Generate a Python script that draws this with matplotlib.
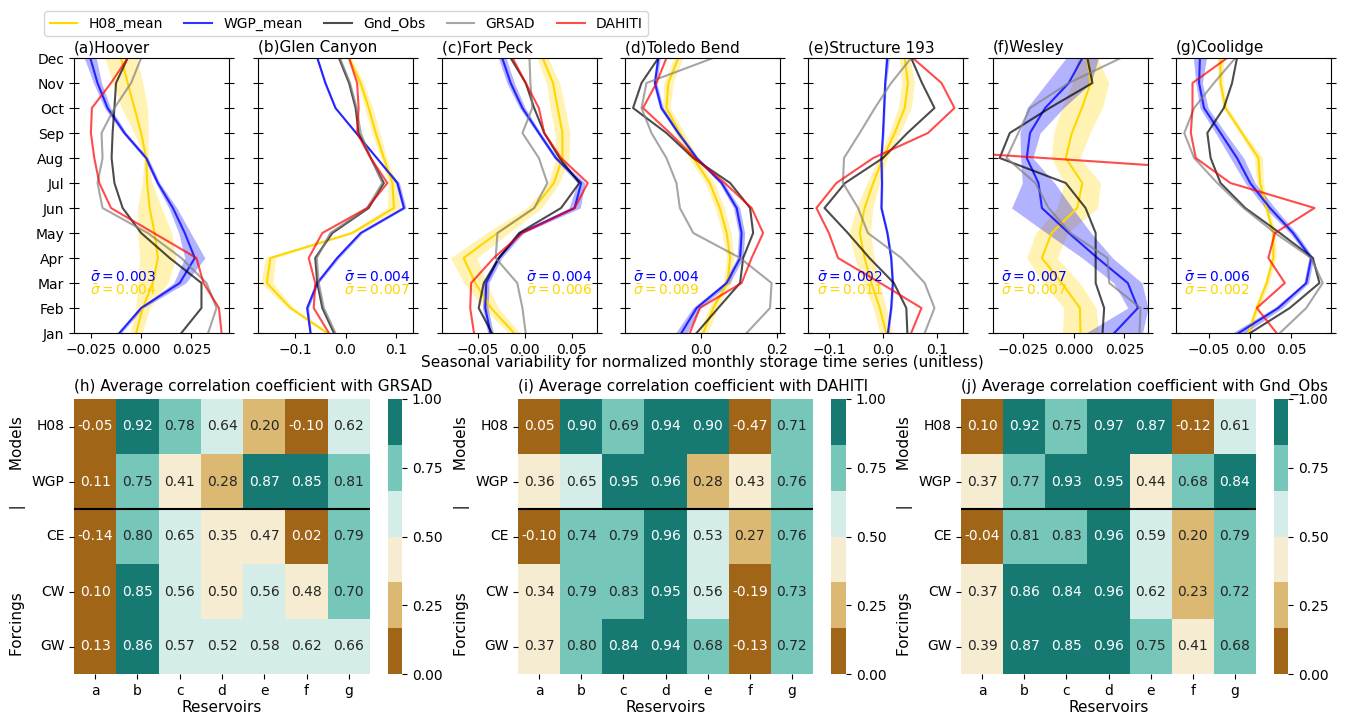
import numpy as np
import matplotlib
matplotlib.use("Agg")
import matplotlib.pyplot as plt
import seaborn as sns
from matplotlib.colors import ListedColormap

nan = np.nan
months = ["Jan", "Feb", "Mar", "Apr", "May", "Jun", "Jul", "Aug", "Sep", "Oct", "Nov", "Dec"]
panel_titles = ["(a)Hoover", "(b)Glen Canyon", "(c)Fort Peck", "(d)Toledo Bend",
                "(e)Structure 193", "(f)Wesley", "(g)Coolidge"]

# seasonal variability, one list of 12 months per reservoir
h08_mean = [
    [-0.0025, 0.0008, 0.0058, 0.0083, 0.0067, 0.0042, 0.003, 0.0025, 0.0, -0.0033, -0.0067, -0.01],
    [-0.036, -0.109, -0.156, -0.149, 0.013, 0.096, 0.093, 0.076, 0.06, 0.046, 0.03, 0.007],
    [-0.0114, -0.036, -0.0525, -0.065, -0.029, 0.01, 0.031, 0.04, 0.04, 0.035, 0.03, 0.019],
    [0.007, 0.033, 0.07, 0.077, 0.068, 0.05, 0.024, -0.019, -0.054, -0.089, -0.084, -0.058],
    [0.006, -0.006, -0.0215, -0.034, -0.043, -0.034, -0.018, 0.0, 0.0215, 0.04, 0.046, 0.04],
    [0.0033, 0.003, -0.006, -0.0158, -0.011, 0.0017, 0.0042, -0.004, -0.001, 0.004, 0.0083, 0.0067],
    [-0.002, 0.008, 0.02, 0.028, 0.028, 0.02, 0.012, 0.01, -0.01, -0.03, -0.036, -0.036],
]
h08_spread = [
    [0.003, 0.0035, 0.0075, 0.009, 0.0085, 0.006, 0.0025, 0.001, 0.0035, 0.0065, 0.0075, 0.008],
    [0.004, 0.006, 0.012, 0.01, 0.006, 0.013, 0.008, 0.006, 0.008, 0.008, 0.006, 0.004],
    [0.006, 0.008, 0.012, 0.014, 0.012, 0.008, 0.006, 0.007, 0.008, 0.008, 0.007, 0.006],
    [0.012, 0.012, 0.01, 0.01, 0.012, 0.012, 0.012, 0.012, 0.012, 0.01, 0.012, 0.012],
    [0.012, 0.012, 0.015, 0.018, 0.02, 0.015, 0.012, 0.008, 0.01, 0.012, 0.012, 0.01],
    [0.009, 0.008, 0.009, 0.0075, 0.008, 0.01, 0.009, 0.007, 0.009, 0.01, 0.009, 0.005],
    [0.003, 0.003, 0.003, 0.003, 0.003, 0.003, 0.004, 0.005, 0.003, 0.003, 0.003, 0.004],
]
wgp_mean = [
    [-0.0108, 0.0, 0.0192, 0.0267, 0.0217, 0.0158, 0.0083, 0.0025, -0.0083, -0.0167, -0.0217, -0.0253],
    [-0.0695, -0.076, -0.056, -0.0166, 0.03, 0.116, 0.103, 0.062, 0.021, -0.02, -0.04, -0.056],
    [-0.0364, -0.042, -0.041, -0.0275, -0.0043, 0.053, 0.06, 0.033, 0.015, -0.0025, -0.015, -0.024],
    [-0.05, -0.0104, 0.068, 0.103, 0.107, 0.094, 0.055, -0.0104, -0.058, -0.102, -0.119, -0.11],
    [0.009, 0.015, 0.018, 0.015, 0.008, -0.003, -0.002, -0.003, 0.0, 0.002, 0.004, 0.008],
    [0.02, 0.0317, 0.0267, 0.0117, -0.0025, -0.0158, -0.0175, -0.0233, -0.0217, -0.0142, -0.0025, 0.0042],
    [-0.014, 0.034, 0.068, 0.074, 0.052, 0.024, 0.0, -0.016, -0.036, -0.056, -0.062, -0.061],
]
wgp_spread = [
    [0.001, 0.001, 0.003, 0.005, 0.003, 0.002, 0.001, 0.001, 0.001, 0.0015, 0.002, 0.003],
    [0.002, 0.003, 0.003, 0.004, 0.004, 0.004, 0.004, 0.002, 0.002, 0.002, 0.002, 0.002],
    [0.003, 0.003, 0.003, 0.003, 0.003, 0.006, 0.004, 0.002, 0.002, 0.003, 0.004, 0.004],
    [0.015, 0.01, 0.008, 0.008, 0.008, 0.008, 0.006, 0.005, 0.005, 0.005, 0.005, 0.005],
    [0.002, 0.002, 0.002, 0.002, 0.002, 0.002, 0.002, 0.002, 0.002, 0.002, 0.002, 0.004],
    [0.014, 0.005, 0.007, 0.0075, 0.011, 0.015, 0.008, 0.003, 0.005, 0.009, 0.011, 0.008],
    [0.008, 0.005, 0.003, 0.003, 0.004, 0.006, 0.006, 0.008, 0.006, 0.005, 0.004, 0.008],
]
gnd_obs = [
    [0.02, 0.03, 0.03, 0.0142, 0.0, -0.0092, -0.0133, -0.0147, -0.0142, -0.0133, -0.0125, -0.0067],
    [-0.023, -0.046, -0.056, -0.06, -0.026, 0.046, 0.076, 0.05, 0.026, 0.02, 0.007, -0.013],
    [-0.035, -0.049, -0.0436, -0.0275, -0.006, 0.0386, 0.058, 0.037, 0.0207, 0.01, 0.001, -0.015],
    [-0.0104, 0.046, 0.103, 0.111, 0.137, 0.129, 0.077, -0.019, -0.089, -0.176, -0.154, -0.11],
    [0.045, 0.043, 0.02, -0.025, -0.065, -0.108, -0.07, 0.0, 0.045, 0.095, 0.072, 0.052],
    [0.0142, 0.015, 0.0108, 0.0108, 0.0108, 0.0058, -0.004, -0.0367, -0.0317, -0.012, 0.0092, 0.0067],
    [0.0, 0.048, 0.084, 0.076, 0.036, -0.006, -0.036, -0.048, -0.052, -0.032, -0.022, -0.016],
]
grsad = [
    [0.0333, 0.0375, 0.0325, 0.02, 0.0033, -0.0192, -0.0217, -0.0192, -0.0197, -0.0133, -0.005, 0.0],
    [-0.02, -0.043, -0.053, -0.057, -0.03, 0.043, 0.073, 0.05, 0.03, 0.022, 0.009, -0.011],
    [0.001, -0.0025, -0.008, -0.031, -0.029, 0.01, 0.024, 0.015, -0.0025, 0.008, 0.006, 0.005],
    [0.12, 0.181, 0.185, 0.103, -0.019, -0.054, -0.063, -0.089, -0.128, -0.154, -0.141, 0.033],
    [0.077, 0.095, 0.077, 0.034, -0.028, -0.046, -0.074, -0.072, -0.043, -0.015, 0.015, 0.052],
    [0.0325, 0.033, 0.0175, 0.0167, -0.0017, -0.0125, -0.019, -0.0333, -0.0275, -0.0217, -0.0025, 0.0233],
    [0.036, 0.068, 0.088, 0.074, 0.03, -0.008, -0.04, -0.068, -0.08, -0.068, -0.044, -0.018],
]
dahiti = [
    [0.04, 0.0387, 0.031, 0.0275, 0.0063, -0.015, -0.0208, -0.0233, -0.025, -0.0245, -0.015, -0.0067],
    [-0.033, -0.063, -0.06, -0.073, -0.046, 0.043, 0.083, 0.05, 0.023, 0.026, 0.023, 0.007],
    [-0.054, -0.058, -0.057, -0.033, -0.0025, 0.053, 0.067, 0.0386, 0.0207, 0.015, 0.001, -0.013],
    [-0.028, -0.002, 0.107, 0.133, 0.163, 0.133, 0.063, -0.015, -0.08, -0.15, -0.115, -0.089],
    [0.052, 0.071, -0.005, -0.083, -0.1, -0.123, -0.086, -0.018, 0.083, 0.132, 0.108, 0.055],
    [nan, nan, nan, nan, nan, nan, 0.17, -0.015, -0.2, nan, nan, nan],
    [0.032, 0.008, 0.042, 0.022, 0.03, 0.078, -0.024, -0.066, -0.072, -0.07, -0.07, -0.028],
]
sigma_wgp = [0.003, 0.004, 0.004, 0.004, 0.002, 0.007, 0.006]
sigma_h08 = [0.004, 0.007, 0.006, 0.009, 0.011, 0.007, 0.002]

# correlation tables
reservoirs = ["a", "b", "c", "d", "e", "f", "g"]
rows = ["H08", "WGP", "CE", "CW", "GW"]
corr_grsad = [
    [-0.05, 0.92, 0.78, 0.64, 0.20, -0.10, 0.62],
    [0.11, 0.75, 0.41, 0.28, 0.87, 0.85, 0.81],
    [-0.14, 0.80, 0.65, 0.35, 0.47, 0.02, 0.79],
    [0.10, 0.85, 0.56, 0.499, 0.56, 0.48, 0.70],
    [0.13, 0.86, 0.57, 0.52, 0.58, 0.62, 0.66],
]
corr_dahiti = [
    [0.05, 0.90, 0.69, 0.94, 0.90, -0.47, 0.71],
    [0.36, 0.65, 0.95, 0.96, 0.28, 0.43, 0.76],
    [-0.10, 0.74, 0.79, 0.96, 0.53, 0.27, 0.76],
    [0.34, 0.79, 0.83, 0.95, 0.56, -0.19, 0.73],
    [0.37, 0.80, 0.84, 0.94, 0.68, -0.13, 0.72],
]
corr_gnd = [
    [0.10, 0.92, 0.75, 0.97, 0.87, -0.12, 0.61],
    [0.37, 0.77, 0.93, 0.95, 0.44, 0.68, 0.84],
    [-0.04, 0.81, 0.83, 0.96, 0.59, 0.20, 0.79],
    [0.37, 0.86, 0.84, 0.96, 0.62, 0.23, 0.72],
    [0.39, 0.87, 0.85, 0.96, 0.75, 0.41, 0.68],
]
heat_titles = ["(h) Average correlation coefficient with GRSAD",
               "(i) Average correlation coefficient with DAHITI",
               "(j) Average correlation coefficient with Gnd_Obs"]

# axis settings for the top panels
xlims = [(-0.0334, 0.0437), (-0.1735, 0.1338), (-0.088, 0.0768), (-0.197, 0.207),
         (-0.1385, 0.1477), (-0.04, 0.0367), (-0.09, 0.098)]
xticks = [[-0.025, 0, 0.025], [-0.1, 0, 0.1], [-0.05, 0, 0.05], [0.0, 0.2],
          [-0.1, 0, 0.1], [-0.025, 0, 0.025], [-0.05, 0, 0.05]]
sig_pos = [(0.10, "left"), (0.985, "right"), (0.975, "right"), (0.05, "left"),
           (0.06, "left"), (0.05, "left"), (0.05, "left")]

plt.rcParams["font.size"] = 10
W, H = 1346, 715
fig = plt.figure(figsize=(W / 100, H / 100), dpi=100)


def px_axes(x0, y0, x1, y1):
    return fig.add_axes([x0 / W, 1 - y1 / H, (x1 - x0) / W, (y1 - y0) / H])


lefts = [74, 258, 442, 625, 808, 993, 1176]
y = np.arange(12)
handles = None
for i in range(7):
    ax = px_axes(lefts[i], 58, lefts[i] + 155, 333)
    hm = np.array(h08_mean[i]); hs = np.array(h08_spread[i])
    wm = np.array(wgp_mean[i]); ws = np.array(wgp_spread[i])
    ax.fill_betweenx(y, hm - hs, hm + hs, color="gold", alpha=0.3, lw=0)
    ax.fill_betweenx(y, wm - ws, wm + ws, color="blue", alpha=0.3, lw=0)
    l1, = ax.plot(hm, y, color="gold", lw=1.5, label="H08_mean")
    l2, = ax.plot(wm, y, color="blue", lw=1.5, alpha=0.8, label="WGP_mean")
    l3, = ax.plot(gnd_obs[i], y, color="black", lw=1.5, alpha=0.7, label="Gnd_Obs")
    l4, = ax.plot(grsad[i], y, color="gray", lw=1.5, alpha=0.7, label="GRSAD")
    l5, = ax.plot(dahiti[i], y, color="red", lw=1.5, alpha=0.7, label="DAHITI")
    if handles is None:
        handles = [l1, l2, l3, l4, l5]
    ax.set_xlim(*xlims[i])
    ax.set_xticks(xticks[i])
    ax.set_ylim(0, 11)
    ax.set_yticks(y)
    if i == 0:
        ax.set_yticklabels(months)
    else:
        ax.set_yticklabels([])
    ax.tick_params(axis="y", direction="inout", left=True, right=True, length=7)
    ax.set_title(panel_titles[i], loc="left", fontsize=11, pad=4)
    sx, ha = sig_pos[i]
    ax.text(sx, 0.2, r"$\bar{\sigma}=%.3f$" % sigma_wgp[i], color="blue",
            ha=ha, va="center", transform=ax.transAxes, fontsize=10)
    ax.text(sx, 0.153, r"$\bar{\sigma}=%.3f$" % sigma_h08[i], color="gold",
            ha=ha, va="center", transform=ax.transAxes, fontsize=10)

fig.text(702 / W, 1 - 362 / H,
         "Seasonal variability for normalized monthly storage time series (unitless)",
         ha="center", va="center", fontsize=11)
fig.legend(handles, [h.get_label() for h in handles], loc="upper left",
           bbox_to_anchor=(44 / W, 1 - 11 / H), ncol=5, fontsize=10,
           borderaxespad=0, columnspacing=1.55)

cmap = ListedColormap(sns.color_palette("BrBG", 6))
heat_x = [(74, 370, 388, 402), (518, 813, 831, 846), (961, 1256, 1274, 1288)]
for k, tab in enumerate([corr_grsad, corr_dahiti, corr_gnd]):
    x0, x1, c0, c1 = heat_x[k]
    ax = px_axes(x0, 399, x1, 674)
    cax = px_axes(c0, 399, c1, 674)
    sns.heatmap(np.array(tab), ax=ax, cbar_ax=cax, cmap=cmap, vmin=0, vmax=1,
                annot=True, fmt=".2f", annot_kws={"fontsize": 10},
                xticklabels=reservoirs, yticklabels=rows,
                cbar_kws={"ticks": [0, 0.25, 0.5, 0.75, 1.0]})
    ax.axhline(2, color="black", lw=1.5)
    ax.set_yticklabels(rows, rotation=0)
    ax.set_xlabel("Reservoirs", fontsize=11, labelpad=2)
    ax.set_ylabel("Forcings" + " " * 17 + "|" + " " * 7 + "Models", fontsize=11)
    ax.set_title(heat_titles[k], loc="left", fontsize=11, pad=6)
    cax.yaxis.set_major_formatter("{x:.2f}")

fig.savefig("out.png", dpi=100)
